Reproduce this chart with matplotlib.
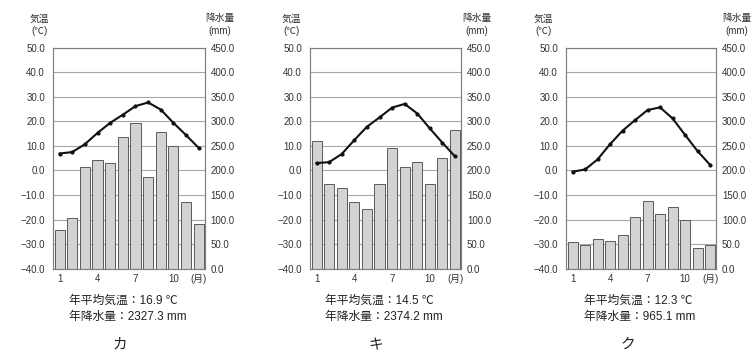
import matplotlib
matplotlib.use('Agg')
import matplotlib.pyplot as plt
import numpy as np

plt.rcParams['font.family'] = ['Liberation Sans', 'Noto Sans CJK JP', 'DejaVu Sans']

# Data
months = np.arange(1, 13)
panel_names = ['カ', 'キ', 'ク']
temp_ka = [6.9, 7.5, 10.7, 15.3, 19.4, 22.7, 26.2, 27.7, 24.8, 19.4, 14.4, 9.2]
rain_ka = [79, 104, 207, 222, 216, 268, 297, 187, 279, 249, 135, 92]
temp_ki = [3.0, 3.4, 6.7, 12.4, 17.8, 21.6, 25.6, 27.1, 23.2, 17.1, 11.3, 5.7]
rain_ki = [260, 172, 165, 135, 122, 172, 245, 207, 218, 172, 225, 282]
temp_ku = [-0.5, 0.4, 4.5, 10.7, 16.2, 20.5, 24.6, 25.7, 21.2, 14.5, 7.9, 2.3]
rain_ku = [54, 49, 60, 57, 69, 106, 138, 112, 125, 100, 43, 49]
mean_temps = ['16.9', '14.5', '12.3']
total_rain = ['2327.3', '2374.2', '965.1']

temp_ticks = np.arange(-40, 51, 10)
rain_ticks = np.arange(0, 451, 50)

W, H = 756, 351
fig = plt.figure(figsize=(W / 100, H / 100), dpi=100)
fig.patch.set_facecolor('white')

# panel layout in pixels
ax_left = [53.3, 310.3, 566.3]
ax_right = [205.0, 461.3, 716.3]
ax_top, ax_bottom = 47.7, 268.7
unit_left_x = [39.3, 291.3, 543.3]
unit_right_x = [220.0, 477.0, 737.0]
name_x = [120.0, 376.0, 628.0]

temps = [temp_ka, temp_ki, temp_ku]
rains = [rain_ka, rain_ki, rain_ku]

for i in range(3):
    rect = [ax_left[i] / W, 1 - ax_bottom / H,
            (ax_right[i] - ax_left[i]) / W, (ax_bottom - ax_top) / H]
    ax = fig.add_axes(rect)
    ax2 = ax.twinx()

    # precipitation bars, grid behind them
    ax2.bar(months, rains[i], width=0.8, color='#d3d3d3', edgecolor='#5a5a5a', linewidth=0.7)
    ax2.set_ylim(0, 450)
    ax2.set_yticks(rain_ticks)
    ax2.set_yticklabels([f'{v:.1f}' for v in rain_ticks])
    ax2.set_axisbelow(True)
    ax2.grid(axis='y', color='#a8a8a8', linewidth=0.8)

    # temperature line on top
    ax.set_zorder(ax2.get_zorder() + 1)
    ax.patch.set_visible(False)
    ax.plot(months, temps[i], color='#111111', linewidth=1.5, marker='o', markersize=2)
    ax.set_ylim(-40, 50)
    ax.set_yticks(temp_ticks)
    ax.set_yticklabels([f'{v:.1f}'.replace('-', '−') for v in temp_ticks])
    ax.set_xlim(0.5, 12.5)
    ax.set_xticks([1, 4, 7, 10, 12])
    ax.set_xticklabels(['1', '4', '7', '10', '(月)'])

    for a in (ax, ax2):
        a.tick_params(length=0, labelsize=7, colors='#333333')
        for s in a.spines.values():
            s.set_color('#808080')
            s.set_linewidth(0.8)
    ax.tick_params(axis='y', pad=6)
    ax2.tick_params(axis='y', pad=4)
    ax.tick_params(axis='x', pad=4)

    fig.text(unit_left_x[i] / W, 1 - 24.5 / H, '気温\n(℃)', fontsize=7,
             ha='center', va='center', color='#333333', linespacing=1.25)
    fig.text(unit_right_x[i] / W, 1 - 24.5 / H, '降水量\n(mm)', fontsize=7,
             ha='center', va='center', color='#333333', linespacing=1.25)
    ax.text(0.49, -0.181, f'年平均気温：{mean_temps[i]} ℃\n年降水量：{total_rain[i]} mm',
            transform=ax.transAxes, fontsize=8.5, ha='center', va='center',
            multialignment='left', color='#222222', linespacing=1.45)
    fig.text(name_x[i] / W, 1 - 345 / H, panel_names[i], fontsize=10.5,
             ha='center', va='center', color='#222222')

fig.savefig('out.png', dpi=100)
